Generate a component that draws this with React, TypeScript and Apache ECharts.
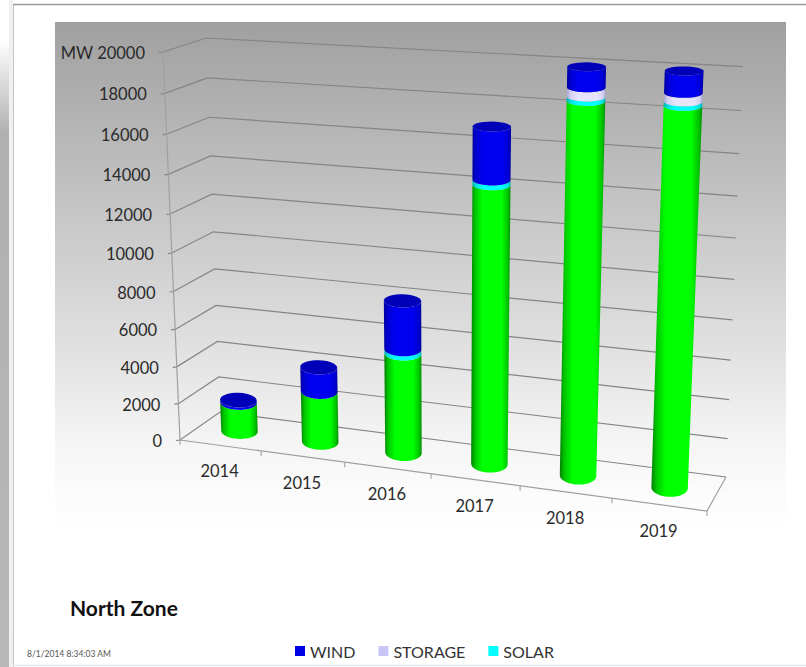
import React, { useEffect, useRef } from "react";
import * as echarts from "echarts";

const categories = ["2014", "2015", "2016", "2017", "2018", "2019"];
const greenValues = [1600, 2750, 5300, 14200, 18450, 18500];
const solarValues = [0, 0, 220, 230, 200, 200];
const storageValues = [0, 0, 0, 0, 420, 380];
const windValues = [130, 1300, 2500, 2550, 950, 990];
const yTicks = [0, 2000, 4000, 6000, 8000, 10000, 12000, 14000, 16000, 18000, 20000];
const yLabels = ["0", "2000", "4000", "6000", "8000", "10000", "12000", "14000", "16000", "18000", "MW 20000"];
const legendNames = ["WIND", "STORAGE", "SOLAR"];

const FONT = "Lato, 'Open Sans', sans-serif";
const GRID = { left: 100, top: 100, width: 600, height: 400 };

type P = [number, number];
const B_FL: P = [180, 440], B_FR: P = [707, 511], B_BL: P = [220, 412], B_BR: P = [726, 477];
const T_FL: P = [163, 52], T_FR: P = [725, 84], T_BL: P = [206, 38], T_BR: P = [743, 66.7];
const RU = 0.91, RV = 0.93;
const warp = (x: number, r: number) => (x * r) / (1 - x + x * r);
const mix = (a: P, b: P, t: number): P => [a[0] + (b[0] - a[0]) * t, a[1] + (b[1] - a[1]) * t];
// tu: warped position along the front, tv: warped height, d: 0 front, 1 back
const place = (tu: number, tv: number, d: number): P => {
  const bottom = mix(mix(B_FL, B_FR, tu), mix(B_BL, B_BR, tu), d);
  const top = mix(mix(T_FL, T_FR, tu), mix(T_BL, T_BR, tu), d);
  return mix(bottom, top, tv);
};
// pixel of the hidden cartesian grid -> picture
const gridU = (px: number) => warp((px - GRID.left) / GRID.width, RU);
const gridV = (py: number) => warp((GRID.top + GRID.height - py) / GRID.height, RV);

const RAD_U = 0.0353, RAD_D = 0.27, STEPS = 28, TILT = 0.2;
// angle 0 = right, PI/2 = nearest the viewer, PI = left
const ring = (tu: number, tv: number, from: number, to: number): P[] => {
  const out: P[] = [];
  const c = place(tu, tv, 0.5);
  const r = place(tu + RAD_U, tv, 0.5);
  const near = place(tu, tv, 0.5 - RAD_D);
  const dx = r[0] - c[0], dy = (r[1] - c[1]) * TILT, ry = near[1] - c[1];
  for (let i = 0; i <= STEPS; i++) {
    const a = from + ((to - from) * i) / STEPS;
    out.push([c[0] + dx * Math.cos(a), c[1] + dy * Math.cos(a) + ry * Math.sin(a)]);
  }
  return out;
};

const sideGradient = (edgeL: string, mid: string, bright: string, edgeR: string) =>
  new echarts.graphic.LinearGradient(0, 0, 1, 0, [
    { offset: 0, color: edgeL },
    { offset: 0.1, color: mid },
    { offset: 0.28, color: bright },
    { offset: 0.78, color: bright },
    { offset: 0.93, color: mid },
    { offset: 1, color: edgeR },
  ]);

const stacked = (lower: number[][], own: number[]) =>
  own.map((v, i) => {
    const start = lower.reduce((s, arr) => s + arr[i], 0);
    return [i, start, start + v];
  });

const cylinderSeries = (name: string, legendColor: string, fill: any, data: number[][], cap: boolean) => ({
  type: "custom",
  name,
  z: 5,
  silent: true,
  itemStyle: { color: legendColor },
  data,
  encode: { x: 0, y: 2 },
  renderItem: (_p: any, api: any) => {
    const lo = api.value(1), hi = api.value(2);
    if (hi <= lo) return null;
    const a = api.coord([api.value(0), lo]);
    const b = api.coord([api.value(0), hi]);
    const tu = gridU(a[0]);
    const lowFront = ring(tu, gridV(a[1]), Math.PI, 0);
    const highFront = ring(tu, gridV(b[1]), 0, Math.PI);
    const children: any[] = [
      { type: "polygon", shape: { points: [...lowFront, ...highFront] }, style: { fill } },
    ];
    if (cap) {
      children.push({
        type: "polygon",
        shape: { points: ring(tu, gridV(b[1]), 0, 2 * Math.PI) },
        style: { fill: "#0000b8" },
      });
    }
    return { type: "group", children };
  },
});

export default function App() {
  const ref = useRef<HTMLDivElement>(null);
  useEffect(() => {
    const chart = echarts.init(ref.current!, undefined, { renderer: "svg" });
    const tickData = yTicks.map((t, i) => [0, t, i]);
    chart.setOption({
      animation: false,
      backgroundColor: "#ffffff",
      title: {
        text: "North Zone",
        left: 65,
        top: 592,
        textStyle: { fontFamily: FONT, fontWeight: "bold", fontSize: 21, color: "#111" },
      },
      legend: {
        left: 290,
        top: 638,
        itemWidth: 10,
        itemHeight: 10,
        itemGap: 23,
        data: legendNames.map((name) => ({ name, icon: "rect" })),
        textStyle: { fontFamily: FONT, fontSize: 16, color: "#333", padding: [0, 0, 0, 0] },
        selectedMode: false,
      },
      grid: GRID,
      xAxis: { type: "category", data: categories, show: false },
      yAxis: { type: "value", min: 0, max: 20000, interval: 2000, show: false },
      graphic: [
        {
          type: "rect", z: -10, silent: true,
          shape: { x: 55, y: 22, width: 731, height: 540 },
          style: {
            fill: new echarts.graphic.LinearGradient(0, 0, 0, 1, [
              { offset: 0, color: "#a0a0a0" },
              { offset: 0.57, color: "#dddddd" },
              { offset: 0.78, color: "#f5f5f5" },
              { offset: 0.88, color: "#fcfcfc" },
              { offset: 0.95, color: "#ffffff" },
            ]),
          },
        },
        {
          type: "rect", z: -10, silent: true,
          shape: { x: 0, y: 0, width: 9, height: 667 },
          style: {
            fill: new echarts.graphic.LinearGradient(0, 0, 0, 1, [
              { offset: 0, color: "#ffffff" },
              { offset: 0.06, color: "#ffffff" },
              { offset: 0.2, color: "#b0b0b0" },
              { offset: 1, color: "#b8b8b8" },
            ]),
          },
        },
        { type: "rect", z: -10, silent: true, shape: { x: 9, y: 0, width: 4, height: 667 }, style: { fill: "#f0f0f0" } },
        { type: "line", z: -9, silent: true, shape: { x1: 13.5, y1: 4, x2: 13.5, y2: 667 }, style: { stroke: "#c4c4c4", lineWidth: 1 } },
        { type: "line", z: -9, silent: true, shape: { x1: 13, y1: 4.5, x2: 806, y2: 4.5 }, style: { stroke: "#999999", lineWidth: 1.5 } },
        { type: "line", z: -9, silent: true, shape: { x1: 13, y1: 665.5, x2: 806, y2: 665.5 }, style: { stroke: "#dfe6ea", lineWidth: 1.5 } },
        {
          type: "text", z: 5, silent: true, x: 27, y: 654,
          style: { text: "8/1/2014 8:34:03 AM", fontFamily: FONT, fontSize: 8.5, fill: "#555", verticalAlign: "middle" },
        },
      ],
      series: [
        {
          type: "custom",
          name: "grid",
          z: 1,
          silent: true,
          data: tickData,
          encode: { x: 0, y: 1 },
          renderItem: (_p: any, api: any) => {
            const c = api.coord([api.value(0), api.value(1)]);
            const tv = gridV(c[1]);
            const fl = place(0, tv, 0), bl = place(0, tv, 1), br = place(1, tv, 1);
            const label = yLabels[api.value(2)];
            return {
              type: "group",
              children: [
                { type: "polyline", shape: { points: [[fl[0] - 4, fl[1] + 0.5], fl, bl, br] }, style: { fill: "none", stroke: "#858585", lineWidth: 1.2 } },
                {
                  type: "text",
                  x: fl[0] - 18,
                  y: fl[1] + 1,
                  style: { text: label, align: "right", verticalAlign: "middle", fontFamily: FONT, fontSize: 16.5, fill: "#2a2a2a" },
                },
              ],
            };
          },
        },
        {
          type: "custom",
          name: "floor",
          z: 1,
          silent: true,
          data: categories.map((_, i) => [i, 0]),
          encode: { x: 0, y: 1 },
          renderItem: (_p: any, api: any) => {
            const i = api.value(0);
            const c = api.coord([i, 0]);
            const band = api.size([1, 0])[0];
            const left = place(gridU(c[0] - band / 2), 0, 0);
            const right = place(gridU(c[0] + band / 2), 0, 0);
            const mid: P = [(left[0] + right[0]) / 2, (left[1] + right[1]) / 2];
            const children: any[] = [
              { type: "line", shape: { x1: right[0], y1: right[1], x2: right[0], y2: right[1] + 5 }, style: { stroke: "#999", lineWidth: 1 } },
              {
                type: "text",
                x: mid[0] - 1,
                y: mid[1] + 26,
                style: { text: categories[i], align: "center", verticalAlign: "middle", fontFamily: FONT, fontSize: 16.5, fill: "#2a2a2a" },
              },
            ];
            if (i === 0) {
              const fl = place(0, 0, 0), fr = place(1, 0, 0), tl = place(0, 1, 0), br = place(1, 0, 1);
              children.push(
                { type: "polyline", shape: { points: [tl, fl, fr, br] }, style: { fill: "none", stroke: "#a0a0a0", lineWidth: 1.2 } },
                { type: "line", shape: { x1: fl[0], y1: fl[1], x2: fl[0], y2: fl[1] + 5 }, style: { stroke: "#999", lineWidth: 1 } }
              );
            }
            return { type: "group", children };
          },
        },
        cylinderSeries("BASE", "#00ff00", sideGradient("#007f00", "#00c400", "#00ff00", "#008f00"), stacked([], greenValues), false),
        cylinderSeries("SOLAR", "#00ffff", sideGradient("#00b0b0", "#00e0e0", "#00ffff", "#00b0b0"), stacked([greenValues], solarValues), false),
        cylinderSeries("STORAGE", "#c9c5f5", sideGradient("#a8a4d0", "#d4d0f0", "#e6e4fb", "#a8a4d0"), stacked([greenValues, solarValues], storageValues), false),
        cylinderSeries("WIND", "#0000e6", sideGradient("#0000a0", "#0000d0", "#0000f0", "#0000a0"), stacked([greenValues, solarValues, storageValues], windValues), true),
      ],
    });
    return () => chart.dispose();
  }, []);
  return <div ref={ref} style={{ position: "absolute", left: 0, top: 0, width: 806, height: 667 }} />;
}
